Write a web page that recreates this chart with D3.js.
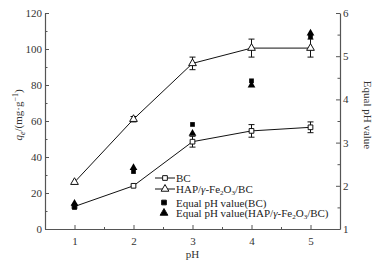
<!DOCTYPE html>
<html>
<head>
<meta charset="utf-8">
<script src="https://cdn.jsdelivr.net/npm/d3@7"></script>
<style>
  body { margin: 0; background: #fff; }
  svg text { font-family: "Liberation Serif", "Times New Roman", serif; }
</style>
</head>
<body>
<svg id="chart" width="378" height="264"></svg>
<script>
// Data
const phValues = [1, 2, 3, 4, 5];
const qeBC = [12.5, 24, 48.5, 54.5, 56.5];
const qeBCErr = [0, 0, 3, 3.5, 3];
const qeHAP = [26, 61, 92, 100.5, 100.5];
const qeHAPErr = [0, 1.5, 3.5, 5, 5];
const eqPhBC = [1.5, 2.33, 3.42, 4.43, 5.45];
const eqPhHAP = [1.59, 2.42, 3.21, 4.33, 5.53];
const leftTicks = [0, 20, 40, 60, 80, 100, 120];
const rightTicks = [1, 2, 3, 4, 5, 6];

const margin = { top: 13, right: 38, bottom: 35, left: 45 };
const width = 378, height = 264;
const innerW = width - margin.left - margin.right;
const innerH = height - margin.top - margin.bottom;

const svg = d3.select('#chart');
const g = svg.append('g').attr('transform', `translate(${margin.left},${margin.top})`);

const x = d3.scaleLinear().domain([0.5, 5.5]).range([0, innerW]);
const yL = d3.scaleLinear().domain([0, 120]).range([innerH, 0]);
const yR = d3.scaleLinear().domain([1, 6]).range([innerH, 0]);

const axisColor = '#555';
const serif = '"Liberation Serif", "Times New Roman", serif';

// Axes (ticks pointing inward)
function styleAxis(sel) {
  sel.attr('font-family', serif).attr('font-size', 11);
  sel.select('.domain').attr('stroke', axisColor).attr('stroke-width', 1.2);
  sel.selectAll('.tick line').attr('stroke', axisColor);
  sel.selectAll('.tick text').attr('fill', '#333');
}

function minor(sel) {
  sel.select('.domain').remove();
  sel.selectAll('line').attr('stroke', axisColor);
}

// minor ticks
g.append('g').attr('transform', `translate(0,${innerH})`)
  .call(d3.axisBottom(x).tickValues([1.5, 2.5, 3.5, 4.5]).tickSize(-2).tickFormat(''))
  .call(minor);

g.append('g')
  .call(d3.axisLeft(yL).tickValues([10, 30, 50, 70, 90, 110]).tickSize(-2.5).tickFormat(''))
  .call(minor);

g.append('g').attr('transform', `translate(${innerW},0)`)
  .call(d3.axisRight(yR).tickValues([1.5, 2.5, 3.5, 4.5, 5.5]).tickSize(-2.5).tickFormat(''))
  .call(minor);

g.append('g').attr('transform', `translate(0,${innerH})`)
  .call(d3.axisBottom(x).tickValues(phValues).tickFormat(d3.format('d'))
    .tickSize(-4).tickPadding(8).tickSizeOuter(0))
  .call(styleAxis);

g.append('g')
  .call(d3.axisLeft(yL).tickValues(leftTicks).tickFormat(d3.format('d'))
    .tickSize(-4).tickPadding(3).tickSizeOuter(0))
  .call(styleAxis);

g.append('g').attr('transform', `translate(${innerW},0)`)
  .call(d3.axisRight(yR).tickValues(rightTicks).tickFormat(d3.format('d'))
    .tickSize(-4).tickPadding(3).tickSizeOuter(0))
  .call(styleAxis);

// Axis titles
const yTitle = svg.append('text')
  .attr('transform', 'translate(22,115) rotate(-90)')
  .attr('text-anchor', 'middle')
  .style('font-size', '11px')
  .attr('fill', '#333');
yTitle.append('tspan').style('font-style', 'italic').text('q');
yTitle.append('tspan').attr('baseline-shift', '-3').style('font-size', '8px').style('font-style', 'italic').text('e');
yTitle.append('tspan').text('/(mg·g');
yTitle.append('tspan').attr('baseline-shift', '4').style('font-size', '8px').text('−1');
yTitle.append('tspan').text(')');

svg.append('text')
  .attr('transform', 'translate(364,115) rotate(90)')
  .attr('text-anchor', 'middle')
  .style('font-size', '11px')
  .attr('fill', '#333')
  .text('Equal pH value');

svg.append('text')
  .attr('x', margin.left + x(3))
  .attr('y', 258)
  .attr('text-anchor', 'middle')
  .style('font-size', '11px')
  .attr('fill', '#333')
  .text('pH');

// Lines
const line = d3.line().x(d => x(d[0])).y(d => yL(d[1]));
const bcData = phValues.map((p, i) => [p, qeBC[i], qeBCErr[i]]);
const hapData = phValues.map((p, i) => [p, qeHAP[i], qeHAPErr[i]]);

[bcData, hapData].forEach(data => {
  g.append('path').datum(data)
    .attr('d', line)
    .attr('fill', 'none')
    .attr('stroke', '#111')
    .attr('stroke-width', 1);

  // error bars
  const eb = g.append('g').selectAll('g').data(data.filter(d => d[2] > 0)).join('g');
  eb.append('line')
    .attr('x1', d => x(d[0])).attr('x2', d => x(d[0]))
    .attr('y1', d => yL(d[1] - d[2])).attr('y2', d => yL(d[1] + d[2]))
    .attr('stroke', '#111');
  [-1, 1].forEach(s => {
    eb.append('line')
      .attr('x1', d => x(d[0]) - 3).attr('x2', d => x(d[0]) + 3)
      .attr('y1', d => yL(d[1] + s * d[2])).attr('y2', d => yL(d[1] + s * d[2]))
      .attr('stroke', '#111');
  });
});

const sq = d3.symbol().type(d3.symbolSquare).size(22);
const tri = d3.symbol().type(d3.symbolTriangle).size(26);

g.append('g').selectAll('path').data(bcData).join('path')
  .attr('transform', d => `translate(${x(d[0])},${yL(d[1])})`)
  .attr('d', sq).attr('fill', '#fff').attr('stroke', '#111');

g.append('g').selectAll('path').data(hapData).join('path')
  .attr('transform', d => `translate(${x(d[0])},${yL(d[1])})`)
  .attr('d', tri).attr('fill', '#fff').attr('stroke', '#111');

// Equal pH points (right axis)
g.append('g').selectAll('path').data(phValues.map((p, i) => [p, eqPhHAP[i]])).join('path')
  .attr('transform', d => `translate(${x(d[0])},${yR(d[1])})`)
  .attr('d', tri).attr('fill', '#000');

g.append('g').selectAll('path').data(phValues.map((p, i) => [p, eqPhBC[i]])).join('path')
  .attr('transform', d => `translate(${x(d[0])},${yR(d[1])})`)
  .attr('d', sq).attr('fill', '#000');

// Legend
const legendItems = [
  { label: [['BC']], sym: sq, fill: '#fff', line: true },
  { label: [['HAP/'], ['γ', 'i'], ['-Fe'], ['2', 's'], ['O'], ['3', 's'], ['/BC']], sym: tri, fill: '#fff', line: true },
  { label: [['Equal pH value(BC)']], sym: sq, fill: '#000', line: false },
  { label: [['Equal pH value(HAP/'], ['γ', 'i'], ['-Fe'], ['2', 's'], ['O'], ['3', 's'], ['/BC)']], sym: tri, fill: '#000', line: false }
];
const legendRows = [0, 11, 24.5, 35];
const legend = svg.append('g').attr('transform', 'translate(155,178)');
legendItems.forEach((item, i) => {
  const row = legend.append('g').attr('transform', `translate(0,${legendRows[i]})`);
  if (item.line) {
    row.append('line').attr('x1', 0).attr('x2', 20).attr('y1', 0).attr('y2', 0)
      .attr('stroke', '#111');
  }
  row.append('path').attr('transform', `translate(${item.line ? 10 : 9},0)`)
    .attr('d', item.sym).attr('fill', item.fill).attr('stroke', '#111');
  const t = row.append('text').attr('x', 21).attr('y', 4)
    .style('font-size', '11px').attr('fill', '#222');
  item.label.forEach(([s, kind]) => {
    const ts = t.append('tspan').text(s);
    if (kind === 's') ts.attr('baseline-shift', '-1.5').style('font-size', '7px');
    if (kind === 'i') ts.style('font-style', 'italic');
  });
});
</script>
</body>
</html>
